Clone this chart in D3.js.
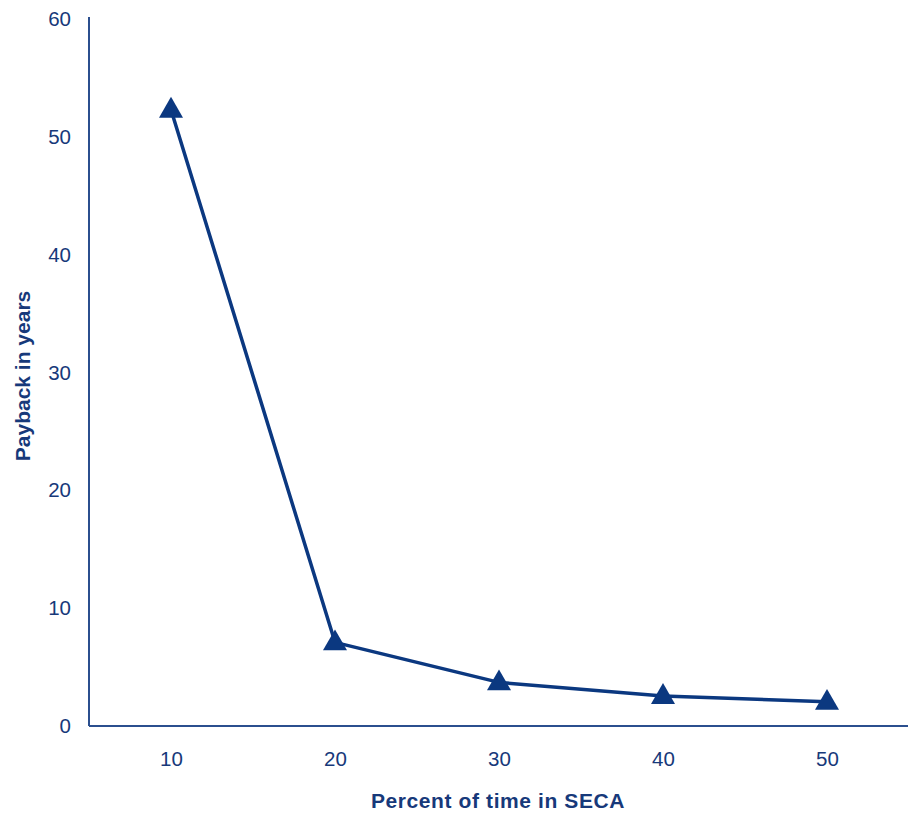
<!DOCTYPE html>
<html>
<head>
<meta charset="utf-8">
<script src="https://cdn.jsdelivr.net/npm/d3@7"></script>
<style>
  body { margin: 0; background: #fff; }
  text { font-family: "Liberation Sans", Arial, sans-serif; }
</style>
</head>
<body>
<svg></svg>
<script>
const categories = ['10', '20', '30', '40', '50'];
const payback = [52.3, 7.1, 3.7, 2.55, 2.05];
const yTicks = [0, 10, 20, 30, 40, 50, 60];

const run = () => {
  const width = 916;
  const height = 815;
  const color = '#0b3880';
  const textColor = '#17397a';

  const svg = d3.select('svg')
      .attr('width', width)
      .attr('height', height);

  const margin = { left: 89, right: 7, top: 19, bottom: 89 };

  const x = d3.scalePoint()
      .domain(categories)
      .range([margin.left, width - margin.right])
      .padding(0.5);

  const y = d3.scaleLinear()
      .domain([0, 60])
      .range([height - margin.bottom, margin.top]);

  // axes
  const yAxis = svg.append('g')
      .attr('transform', `translate(${margin.left},0)`)
      .call(d3.axisLeft(y).tickValues(yTicks).tickSize(0).tickPadding(18));
  yAxis.select('.domain')
      .attr('d', `M0,${margin.top - 2}V${y(0)}`)
      .attr('stroke', '#2b4f8e')
      .attr('stroke-width', 2);
  yAxis.selectAll('text')
      .attr('font-size', 20.5)
      .attr('fill', textColor);

  const xAxis = svg.append('g')
      .attr('transform', `translate(0,${y(0)})`)
      .call(d3.axisBottom(x).tickSize(0).tickPadding(25));
  xAxis.select('.domain')
      .attr('d', `M${margin.left},0H${width - 8}`)
      .attr('stroke', '#2b4f8e')
      .attr('stroke-width', 2);
  xAxis.selectAll('text')
      .attr('font-size', 20.5)
      .attr('fill', textColor);

  // axis titles
  svg.append('text')
      .attr('x', 498)
      .attr('y', 808)
      .attr('text-anchor', 'middle')
      .attr('font-size', 21)
      .attr('letter-spacing', 0.6)
      .attr('font-weight', 'bold')
      .attr('fill', textColor)
      .text('Percent of time in SECA');

  svg.append('text')
      .attr('transform', 'translate(30,376) rotate(-90)')
      .attr('text-anchor', 'middle')
      .attr('font-size', 21)
      .attr('font-weight', 'bold')
      .attr('fill', textColor)
      .text('Payback in years');

  // line
  const line = d3.line()
      .x((d, i) => x(categories[i]))
      .y(d => y(d));

  svg.append('path')
      .datum(payback)
      .attr('d', line)
      .attr('fill', 'none')
      .attr('stroke', color)
      .attr('stroke-width', 3.5)
      .attr('stroke-linejoin', 'round');

  // triangle markers
  const tri = d3.symbol().type(d3.symbolTriangle).size(250);
  svg.selectAll('.marker')
    .data(payback)
    .enter()
    .append('path')
      .attr('class', 'marker')
      .attr('d', tri)
      .attr('fill', color)
      .attr('transform', (d, i) => `translate(${x(categories[i])},${y(d) + 1})`);
};

window.app = { run };
window.app.run();
</script>
</body>
</html>
